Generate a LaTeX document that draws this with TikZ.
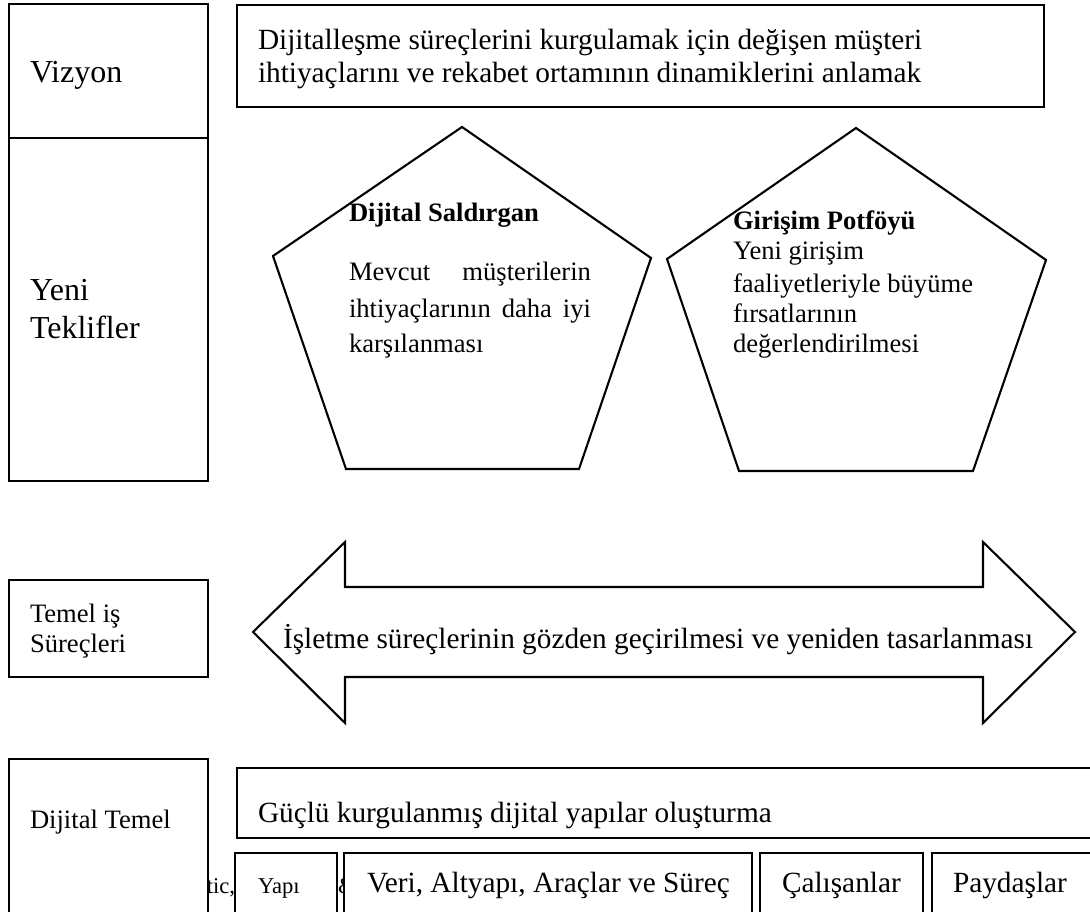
\documentclass[tikz,border=0pt]{standalone}
\usepackage{fontspec}
\setmainfont{Liberation Serif}
\newcommand{\fxii}{\fontsize{32}{37}\selectfont}
\newcommand{\fxi}{\fontsize{29.3}{33.7}\selectfont}
\newcommand{\fx}{\fontsize{26.6}{30.6}\selectfont}
\newcommand{\fviii}{\fontsize{22.6}{26}\selectfont}
\begin{document}
\begin{tikzpicture}[x=1pt,y=-1pt,
  box/.style={draw, line width=2.8pt, fill=white},
  shp/.style={draw, line width=2.1pt, line join=miter, fill=white},
  txt/.style={inner sep=0pt, outer sep=0pt, anchor=base west}]
\useasboundingbox (0,0) rectangle (1090,912);
\clip (0,0) rectangle (1090,912);
% left column
\draw[box] (9,4) rectangle (208,481);
\draw[line width=2.8pt] (9,138) -- (208,138);
\node[txt,font=\fxii] (viz) at (30,83) {Vizyon};
\node[txt,font=\fxii] (yeni) at (30,300) {Yeni};
\node[txt,font=\fxii] (tek) at (30,338) {Teklifler};
\draw[box] (9,580) rectangle (208,677);
\node[txt,font=\fx] (temel1) at (30,622) {Temel iş};
\node[txt,font=\fx] (temel2) at (30,652) {Süreçleri};
% top box
\draw[box] (237,5) rectangle (1044,107);
\node[txt,font=\fxi] (top1) at (258,50) {Dijitalleşme süreçlerini kurgulamak için değişen müşteri};
\node[txt,font=\fxi] (top2) at (258,83) {ihtiyaçlarını ve rekabet ortamının dinamiklerini anlamak};
% pentagons
\draw[shp] (462,127) -- (651,258) -- (579,469) -- (346,469) -- (273,256) -- cycle;
\draw[shp] (856,128) -- (1046,260) -- (973,471) -- (739,471) -- (667,259) -- cycle;
\node[txt,font=\fx\bfseries] (ds) at (349,222) {Dijital Saldırgan};
\node[txt,font=\fx] (ds1) at (349,280) {\hbox to 242pt{Mevcut\hfill müşterilerin}};
\node[txt,font=\fx] (ds2) at (349,317) {\hbox to 242pt{ihtiyaçlarının\hfill daha\hfill iyi}};
\node[txt,font=\fx] (ds3) at (349,352) {karşılanması};
\node[txt,font=\fx\bfseries] (gp) at (733,230) {Girişim Potföyü};
\node[txt,font=\fx] (gp1) at (733,260) {Yeni girişim};
\node[txt,font=\fx] (gp2) at (733,292) {faaliyetleriyle büyüme};
\node[txt,font=\fx] (gp3) at (733,322) {fırsatlarının};
\node[txt,font=\fx] (gp4) at (733,352) {değerlendirilmesi};
% double arrow
\draw[shp] (253,632) -- (345,542) -- (345,587) -- (983,587) -- (983,542) -- (1075,632)
  -- (983,723) -- (983,677) -- (345,677) -- (345,723) -- cycle;
\node[txt,font=\fxi] (arr) at (283,648) {İşletme süreçlerinin gözden geçirilmesi ve yeniden tasarlanması};
% bottom
\node[txt,anchor=base east,font=\fviii] (hid1) at (235,893) {Analytic,};
\node[txt,font=\fviii] (hid2) at (338,893) {\&};
\draw[box] (9,759) rectangle (208,940);
\node[txt,font=\fx] (dt) at (30,828) {Dijital Temel};
\draw[box] (237,768) rectangle (1110,838);
\node[txt,font=\fxi] (gu) at (258,822) {Güçlü kurgulanmış dijital yapılar oluşturma};
\draw[box] (235,853) rectangle (337,940);
\node[txt,font=\fviii] (yapi) at (258,893) {Yapı};
\draw[box] (344,853) rectangle (752,940);
\node[txt,font=\fxi] (veri) at (367,892) {Veri, Altyapı, Araçlar ve Süreç};
\draw[box] (760,853) rectangle (923,940);
\node[txt,font=\fxi] (cal) at (782,892) {Çalışanlar};
\draw[box] (932,853) rectangle (1110,940);
\node[txt,font=\fxi] (pay) at (953,892) {Paydaşlar};
\end{tikzpicture}
\end{document}
